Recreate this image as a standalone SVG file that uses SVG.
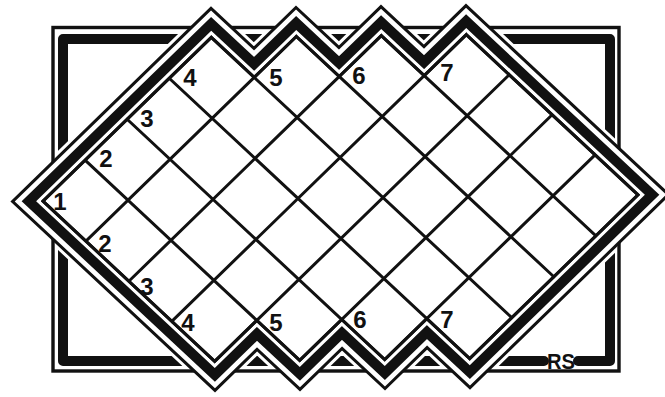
<svg xmlns="http://www.w3.org/2000/svg" xmlns:xlink="http://www.w3.org/1999/xlink" width="665" height="397" viewBox="0 0 665 397">
<style>
.ink{fill:none;stroke:#111;stroke-linejoin:miter;stroke-miterlimit:6}
.paper{fill:none;stroke:#fff;stroke-linejoin:miter;stroke-miterlimit:6}
.thick{fill:none;stroke:#111;stroke-width:10;stroke-linecap:round;stroke-linejoin:round}
.thin{fill:none;stroke:#111;stroke-width:3.4}
.grid{fill:none;stroke:#111;stroke-width:3;stroke-linecap:square}
.num{font-family:"Liberation Sans",Arial,sans-serif;font-weight:bold;font-size:24px;fill:#111;text-anchor:middle}
.sig{font-family:"Liberation Sans",Arial,sans-serif;font-weight:bold;font-size:22px;fill:#111;text-anchor:middle}
</style>
<defs>
<polygon id="brd" points="43,198 213,36 255.5,76.5 298,36 340.5,76.5 383,36 425.5,76.5 468,36 638,198 468,360 425.5,319.5 383,360 340.5,319.5 298,360 255.5,319.5 213,360"/>
</defs>
<rect width="665" height="397" fill="#fff"/>
<g id="frame-thick">
<path class="thick" d="M578,361 H610 V39 H63 V361 H544"/>
</g>
<g id="halo" transform="rotate(-0.6 340.5 198)">
<use xlink:href="#brd" class="paper" style="stroke-width:51"/>
</g>
<g id="frame-thin">
<rect class="thin" x="53" y="27.5" width="566" height="343.5"/>
</g>
<g id="board" transform="rotate(-0.6 340.5 198)">
<use xlink:href="#brd" class="ink" style="stroke-width:45"/>
<use xlink:href="#brd" class="paper" style="stroke-width:39"/>
<use xlink:href="#brd" class="ink" style="stroke-width:29.5"/>
<use xlink:href="#brd" class="paper" style="stroke-width:9.5"/>
<use xlink:href="#brd" fill="#fff"/>
<g id="grid">
<path class="grid" d="M43,198 L213,36 M85.5,238.5 L298,36 M128,279 L383,36 M170.5,319.5 L468,36 M213,360 L510.5,76.5 M298,360 L553,117 M383,360 L595.5,157.5 M468,360 L638,198 M43,198 L213,360 M85.5,157.5 L298,360 M128,117 L383,360 M170.5,76.5 L468,360 M213,36 L510.5,319.5 M298,36 L553,279 M383,36 L595.5,238.5 M468,36 L638,198"/>
<use xlink:href="#brd" class="ink" style="stroke-width:3"/>
</g>
</g>
<g id="labels">
<text class="num" x="60" y="210">1</text>
<text class="num" x="106" y="167">2</text>
<text class="num" x="147" y="127">3</text>
<text class="num" x="190" y="86">4</text>
<text class="num" x="276" y="86">5</text>
<text class="num" x="359" y="84">6</text>
<text class="num" x="447" y="81">7</text>
<text class="num" x="105" y="252">2</text>
<text class="num" x="147" y="295">3</text>
<text class="num" x="188" y="331">4</text>
<text class="num" x="276" y="331">5</text>
<text class="num" x="360" y="328">6</text>
<text class="num" x="447" y="328">7</text>
<text class="sig" x="561" y="369" textLength="28" lengthAdjust="spacingAndGlyphs">RS</text>
</g>
</svg>
